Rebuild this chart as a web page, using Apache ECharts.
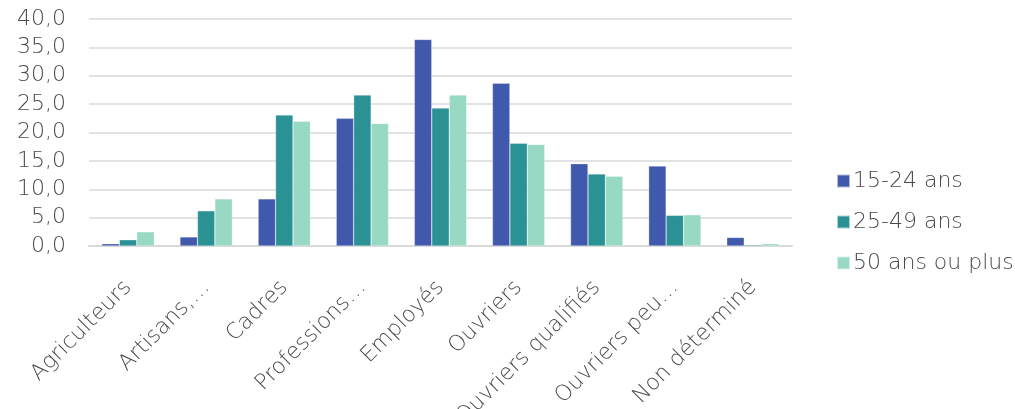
<!DOCTYPE html>
<html>
<head>
<meta charset="utf-8">
<script src="https://cdn.jsdelivr.net/npm/echarts@6/dist/echarts.min.js"></script>
<style>
  html, body { margin: 0; padding: 0; background: #ffffff; }
  #chart { width: 1015px; height: 409px; }
</style>
</head>
<body>
<div id="chart"></div>
<script>
// Catégories socioprofessionnelles
const categories = ['Agriculteurs', 'Artisans,…', 'Cadres', 'Professions…', 'Employés', 'Ouvriers', 'Ouvriers qualifiés', 'Ouvriers peu…', 'Non déterminé'];

// Parts (%) par tranche d'âge
const age15_24 = [0.4, 1.6, 8.3, 22.5, 36.4, 28.7, 14.5, 14.1, 1.5];
const age25_49 = [1.1, 6.2, 23.1, 26.6, 24.3, 18.1, 12.7, 5.4, 0.2];
const age50plus = [2.5, 8.3, 22.0, 21.6, 26.6, 17.9, 12.3, 5.5, 0.4];

const seriesNames = ['15-24 ans', '25-49 ans', '50 ans ou plus'];
const colors = ['#4059ad', '#2a9195', '#97d9c3'];

const FONT = '"DejaVu Sans ExtraLight", "DejaVu Sans"';
const WEIGHT = 200;
const TEXT = '#4a4a4a';

const chart = echarts.init(document.getElementById('chart'), null, { renderer: 'canvas' });

const mkSeries = (name, data, color) => ({
  name: name,
  type: 'bar',
  data: data,
  barGap: '0%',
  barCategoryGap: '33%',
  itemStyle: { color: color, borderColor: 'rgba(255,255,255,0.6)', borderWidth: 0.5 }
});

chart.setOption({
  animation: false,
  textStyle: { fontFamily: FONT, fontWeight: WEIGHT },
  grid: { left: 89, right: 223, top: 19, bottom: 163, containLabel: false, outerBoundsMode: 'none' },
  legend: {
    orient: 'vertical',
    left: 831,
    top: 165,
    itemWidth: 13,
    itemHeight: 13,
    itemGap: 19,
    icon: 'rect',
    textStyle: { fontFamily: FONT, fontWeight: WEIGHT, fontSize: 22, color: TEXT, padding: [0, 0, 0, -2] },
    data: seriesNames
  },
  xAxis: {
    type: 'category',
    data: categories,
    axisLine: { show: true, lineStyle: { color: '#d9d9d9', width: 2 } },
    axisTick: { show: false },
    axisLabel: {
      interval: 0,
      rotate: 45,
      margin: 38,
      fontFamily: FONT,
      fontWeight: WEIGHT,
      fontSize: 22,
      color: TEXT
    }
  },
  yAxis: {
    type: 'value',
    min: 0,
    max: 40,
    interval: 5,
    axisLine: { show: false },
    axisTick: { show: false },
    splitLine: { lineStyle: { color: '#d9d9d9', width: 1.5 } },
    axisLabel: {
      margin: 23,
      fontFamily: FONT,
      fontWeight: WEIGHT,
      fontSize: 22,
      color: TEXT,
      formatter: v => v.toFixed(1).replace('.', ',')
    }
  },
  series: [
    mkSeries(seriesNames[0], age15_24, colors[0]),
    mkSeries(seriesNames[1], age25_49, colors[1]),
    mkSeries(seriesNames[2], age50plus, colors[2])
  ]
});
</script>
</body>
</html>
